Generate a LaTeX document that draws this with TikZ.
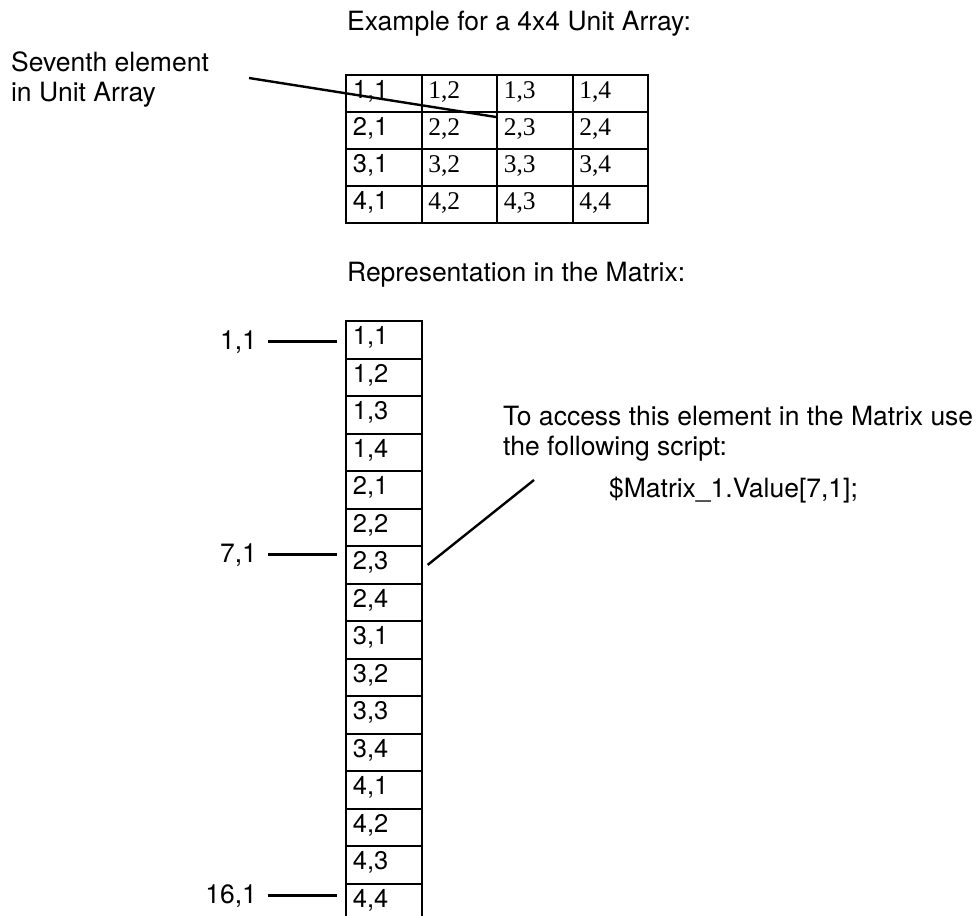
\documentclass[tikz,border=0pt]{standalone}
\usepackage{fontspec}
\setmainfont{TeX Gyre Heros}
\newfontfamily\cellserif{Liberation Serif}
\usetikzlibrary{positioning}

\begin{document}
\begin{tikzpicture}[
  x=1pt, y=-1pt,
  line width=2.2pt,
  every node/.style={font=\fontsize{26.5}{30}\selectfont, inner sep=0pt},
  txt/.style={anchor=base west},
  lbl/.style={anchor=base east},
  cell/.style={
    draw,
    anchor=north west,
    minimum width=75.5pt,
    minimum height=37.5pt,
    text width=62pt,
    inner xsep=6.75pt,
    text height=19pt,
    text depth=9pt,
    align=left,
    font=\fontsize{25.5}{30}\selectfont
  },
  serif/.style={font=\fontsize{25.5}{30}\selectfont\cellserif},
  lead/.style={line width=2.4pt}
]
  \useasboundingbox (0,0) rectangle (976,915);

  % unit array
  \node[txt] (title) at (346,31) {Example for a 4x4 Unit Array:};
  \foreach \r in {1,...,4} {
    \node[cell, minimum height=37pt] (t\r1) at (345,{74+37*(\r-1)}) {\r,1};
    \foreach \c in {2,3,4}
      \node[cell, serif, minimum height=37pt] (t\r\c) at ({345+75.5*(\c-1)},{74+37*(\r-1)}) {\r,\c};
  }

  \node[txt] (sev1) at (10,72) {Seventh element};
  \node[txt] (sev2) at (10,102) {in Unit Array};
  \coordinate (sevend) at (249,78);
  \draw[lead] (sevend) -- ([yshift=-6pt]t23.north west);

  % matrix column
  \node[txt] (repr) at (346,281) {Representation in the Matrix:};
  \foreach \r in {1,...,4}
    \foreach \c in {1,...,4} {
      \pgfmathtruncatemacro\k{4*(\r-1)+\c}
      \node[cell] (m\k) at (345,{320+37.5*(\k-1)}) {\r,\c};
    }

  \node[lbl] (l1) at (258,349) {1,1};
  \node[lbl] (l7) at (258,562) {7,1};
  \node[lbl] (l16) at (258,903) {16,1};
  \draw[lead] ([xshift=10pt]l1.east) -- ([xshift=-8pt]l1.east -| m1.west);
  \draw[lead] ([xshift=10pt]l7.east) -- ([xshift=-8pt]l7.east -| m7.west);
  \draw[lead] ([xshift=10pt]l16.east) -- ([xshift=-8pt]l16.east -| m16.west);

  % script note
  \node[txt] (acc1) at (502,425) {To access this element in the Matrix use};
  \node[txt] (acc2) at (502,455) {the following script:};
  \node[txt] (code) at (608,497) {\$Matrix\_1.Value[7,1];};
  \coordinate (accend) at (534,480);
  \draw[lead] (accend) -- ([xshift=5pt]m7.east);
\end{tikzpicture}
\end{document}
